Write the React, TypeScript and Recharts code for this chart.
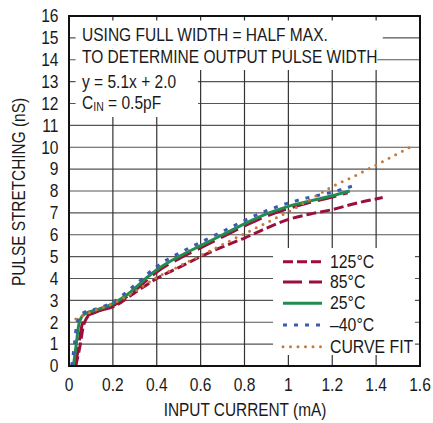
import React from "react";
import {
  LineChart,
  Line,
  XAxis,
  YAxis,
  CartesianGrid,
  ReferenceArea,
} from "recharts";

// ---- data ----
const x125 = [0.03, 0.05, 0.065, 0.08, 0.11, 0.2, 0.3, 0.4, 0.5, 0.6, 0.7, 0.8, 0.9, 1.0, 1.1, 1.2, 1.3, 1.43];
const y125 = [0, 0.9, 1.8, 2.18, 2.45, 2.7, 3.35, 4.0, 4.5, 5.0, 5.45, 5.85, 6.3, 6.7, 6.95, 7.15, 7.42, 7.7];

const x85 = [0.03, 0.045, 0.06, 0.085, 0.12, 0.2, 0.3, 0.4, 0.5, 0.6, 0.7, 0.8, 0.9, 1.0, 1.1, 1.2, 1.27];
const y85 = [0, 1.0, 1.9, 2.3, 2.45, 2.75, 3.45, 4.3, 4.9, 5.4, 5.9, 6.4, 6.85, 7.2, 7.48, 7.72, 7.92];

const x25 = [0.02, 0.032, 0.043, 0.058, 0.08, 0.12, 0.2, 0.25, 0.3, 0.35, 0.4, 0.5, 0.6, 0.7, 0.8, 0.9, 1.0, 1.1, 1.2, 1.28];
const y25 = [0, 0.9, 1.8, 2.25, 2.42, 2.55, 2.85, 3.15, 3.55, 4.0, 4.4, 5.0, 5.5, 6.0, 6.5, 6.95, 7.3, 7.55, 7.78, 8.0];

const xM40 = [0.012, 0.025, 0.035, 0.05, 0.08, 0.12, 0.2, 0.3, 0.4, 0.5, 0.6, 0.7, 0.8, 0.9, 1.0, 1.1, 1.2, 1.3];
const yM40 = [0, 1.0, 1.9, 2.3, 2.5, 2.6, 2.92, 3.7, 4.55, 5.15, 5.65, 6.15, 6.65, 7.1, 7.45, 7.72, 7.95, 8.25];

const xFit = [0, 0.1, 0.2, 0.3, 0.4, 0.5, 0.6, 0.7, 0.8, 0.9, 1.0, 1.1, 1.2, 1.3, 1.4, 1.5, 1.57];
const yFit = [2.0, 2.47, 2.86, 3.4, 4.05, 4.55, 5.05, 5.55, 6.05, 6.55, 7.05, 7.62, 8.2, 8.68, 9.19, 9.72, 10.08];

const xTicks = [0, 0.2, 0.4, 0.6, 0.8, 1, 1.2, 1.4, 1.6];
const xTickLabels = ["0", "0.2", "0.4", "0.6", "0.8", "1", "1.2", "1.4", "1.6"];
const yTicks = [0, 1, 2, 3, 4, 5, 6, 7, 8, 9, 10, 11, 12, 13, 14, 15, 16];

const annotationLines = [
  "USING FULL WIDTH = HALF MAX.",
  "TO DETERMINE OUTPUT PULSE WIDTH",
  "y = 5.1x + 2.0",
];

const seriesNames = ["125°C", "85°C", "25°C", "\u201340°C", "CURVE FIT"];

const toData = (xs: number[], ys: number[]) => xs.map((x, i) => ({ x, y: ys[i] }));

const RED = "#9c0f3a";
const GREEN = "#218c4f";
const BLUE = "#3a5cb0";
const ORANGE = "#c57a3c";
const INK = "#1a1a1a";

const styles = [
  { stroke: RED, dash: "10 4", cap: "butt" as const, w: 3 },
  { stroke: RED, dash: "19 7", cap: "butt" as const, w: 3 },
  { stroke: GREEN, dash: undefined, cap: "butt" as const, w: 3 },
  { stroke: BLUE, dash: "4 7", cap: "butt" as const, w: 3 },
  { stroke: ORANGE, dash: "0 7.5", cap: "round" as const, w: 3 },
];

const FONT = "'Liberation Sans', Arial, sans-serif";

function CText(props: {
  x: number;
  y: number;
  size: number;
  sx: number;
  anchor?: "start" | "middle" | "end";
  rotate?: number;
  children: React.ReactNode;
}) {
  const { x, y, size, sx, anchor = "start", rotate = 0, children } = props;
  return (
    <text
      transform={`translate(${x} ${y}) rotate(${rotate}) scale(${sx} 1)`}
      x={0}
      y={0}
      textAnchor={anchor}
      dominantBaseline="central"
      fontFamily={FONT}
      fontSize={size}
      fill={INK}
    >
      {children}
    </text>
  );
}

const XTick = (p: any) => {
  const v = p.payload.value as number;
  const idx = xTicks.findIndex((t) => Math.abs(t - v) < 1e-6);
  return (
    <CText x={p.x} y={358 + 19.5} size={17.5} sx={0.89} anchor="middle">
      {idx >= 0 ? xTickLabels[idx] : String(v)}
    </CText>
  );
};

const YTick = (p: any) => (
  <CText x={50.5} y={p.y + 0.5} size={17.5} sx={0.89} anchor="end">
    {String(p.payload.value)}
  </CText>
);

export default function App() {
  const W = 425;
  const H = 415;
  const datasets = [
    toData(x125, y125),
    toData(x85, y85),
    toData(x25, y25),
    toData(xM40, yM40),
    toData(xFit, yFit),
  ];
  const order = [1, 0, 2, 3, 4];
  const legendY = [253.7, 274, 295.3, 317, 338.7];
  return (
    <div style={{ position: "relative", width: W, height: H, margin: "8px 0 0 8px" }}>
      <style>{"html,body{margin:0;padding:0;} .recharts-surface{overflow:visible;}"}</style>
      <LineChart
        width={W}
        height={H}
        margin={{ top: 8, right: 13, bottom: 0, left: 0 }}
      >
        <CartesianGrid horizontal={true} vertical={false} stroke="#555" strokeWidth={1.2} />
        <CartesianGrid horizontal={false} vertical={true} stroke="#333" strokeWidth={1.2} />
        <XAxis
          type="number"
          dataKey="x"
          domain={[0, 1.6]}
          ticks={xTicks}
          height={57}
          tickSize={0}
          tickMargin={0}
          axisLine={false}
          tickLine={false}
          interval={0}
          tick={XTick}
          allowDataOverflow
        />
        <YAxis
          type="number"
          domain={[0, 16]}
          ticks={yTicks}
          width={61}
          tickSize={0}
          tickMargin={0}
          axisLine={false}
          tickLine={false}
          interval={0}
          tick={YTick}
          allowDataOverflow
        />
        <ReferenceArea x1={0.03} x2={1.43} y1={14.5} y2={15.8} fill="#fff" fillOpacity={1} stroke="none" ifOverflow="visible" />
        <ReferenceArea x1={0.03} x2={1.405} y1={13.53} y2={14.5} fill="#fff" fillOpacity={1} stroke="none" ifOverflow="visible" />
        <ReferenceArea x1={0.03} x2={0.588} y1={11.38} y2={13.53} fill="#fff" fillOpacity={1} stroke="none" ifOverflow="visible" />
        <ReferenceArea x1={0.93} x2={1.577} y1={0.5} y2={5.39} fill="#fff" fillOpacity={1} stroke="none" ifOverflow="visible" />
        {order.map((i) => (
          <Line
            key={seriesNames[i]}
            data={datasets[i]}
            dataKey="y"
            name={seriesNames[i]}
            type="monotone"
            stroke={styles[i].stroke}
            strokeWidth={styles[i].w}
            strokeDasharray={styles[i].dash}
            strokeLinecap={styles[i].cap}
            dot={false}
            activeDot={false}
            isAnimationActive={false}
          />
        ))}
      </LineChart>
      <svg
        width={W}
        height={H}
        style={{ position: "absolute", left: 0, top: 0, pointerEvents: "none", overflow: "visible" }}
      >
        <rect x={61} y={8} width={351} height={350} fill="none" stroke="#111" strokeWidth={2} />
        {annotationLines.map((t, i) => (
          <CText key={t} x={74} y={[27, 49.5, 74][i]} size={18.5} sx={0.84}>
            {t}
          </CText>
        ))}
        <CText x={74} y={95} size={18.5} sx={0.84}>
          C
          <tspan fontSize={12.5} dy={4}>IN</tspan>
          <tspan dy={-4}> = 0.5pF</tspan>
        </CText>
        {seriesNames.map((n, i) => (
          <g key={n}>
            <line
              x1={275}
              x2={314}
              y1={legendY[i]}
              y2={legendY[i]}
              stroke={styles[i].stroke}
              strokeWidth={styles[i].w}
              strokeDasharray={styles[i].dash}
              strokeLinecap={styles[i].cap}
            />
            <CText x={322} y={legendY[i]} size={18} sx={0.88}>
              {n}
            </CText>
          </g>
        ))}
        <CText x={237} y={402} size={17.5} sx={0.88} anchor="middle">
          INPUT CURRENT (mA)
        </CText>
        <CText x={10.5} y={184} size={17.5} sx={0.88} anchor="middle" rotate={-90}>
          PULSE STRETCHING (nS)
        </CText>
      </svg>
    </div>
  );
}
